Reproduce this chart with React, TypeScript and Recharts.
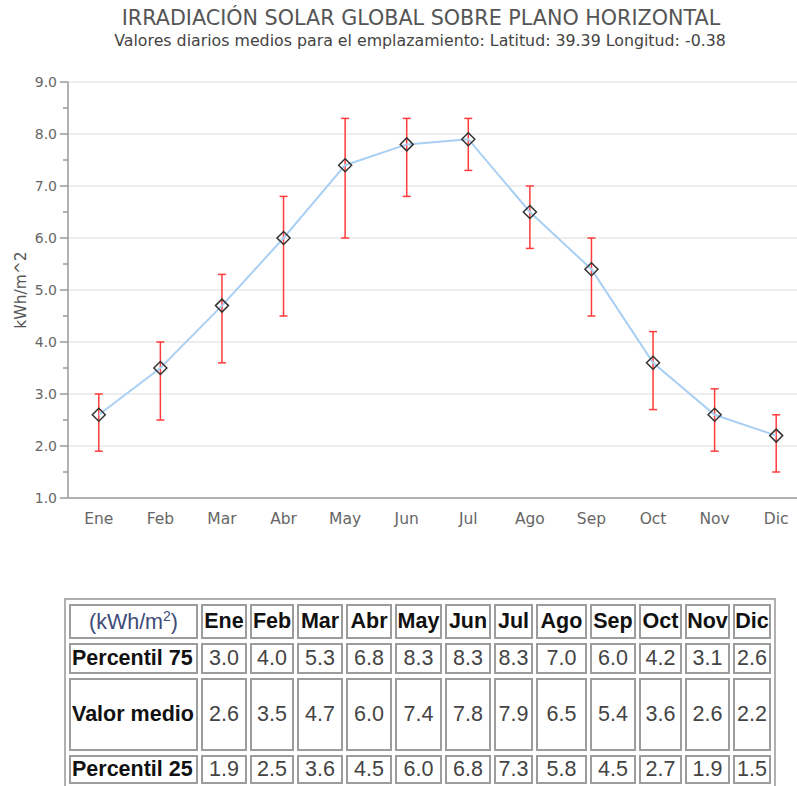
import React from 'react';
import { LineChart, Line, XAxis, YAxis, ErrorBar, ReferenceLine } from 'recharts';

const months = ['Ene', 'Feb', 'Mar', 'Abr', 'May', 'Jun', 'Jul', 'Ago', 'Sep', 'Oct', 'Nov', 'Dic'];
const valorMedio = [2.6, 3.5, 4.7, 6.0, 7.4, 7.8, 7.9, 6.5, 5.4, 3.6, 2.6, 2.2];
const percentil75 = [3.0, 4.0, 5.3, 6.8, 8.3, 8.3, 8.3, 7.0, 6.0, 4.2, 3.1, 2.6];
const percentil25 = [1.9, 2.5, 3.6, 4.5, 6.0, 6.8, 7.3, 5.8, 4.5, 2.7, 1.9, 1.5];
const yAllTicks = [1, 1.5, 2, 2.5, 3, 3.5, 4, 4.5, 5, 5.5, 6, 6.5, 7, 7.5, 8, 8.5, 9];
const gridValues = [2, 3, 4, 5, 6, 7, 8, 9];

const title = 'IRRADIACIÓN SOLAR GLOBAL SOBRE PLANO HORIZONTAL';
const subtitle = 'Valores diarios medios para el emplazamiento: Latitud: 39.39 Longitud: -0.38';

const data = months.map((m, i) => ({
  month: m,
  mean: valorMedio[i],
  err: [+(valorMedio[i] - percentil25[i]).toFixed(2), +(percentil75[i] - valorMedio[i]).toFixed(2)],
}));

const FONT = '"DejaVu Sans", sans-serif';
const TICK_SIZE = 8;
const TICK_MARGIN = 3;

const YTick = (props: any) => {
  const { x, y, payload } = props;
  const v = payload.value as number;
  const major = Number.isInteger(v);
  const axisX = x + TICK_SIZE + TICK_MARGIN;
  const len = major ? TICK_SIZE : 5;
  return (
    <g>
      <line x1={axisX - len} x2={axisX} y1={y} y2={y} stroke="#999" strokeWidth={1.5} />
      {major && (
        <text x={x} y={y} textAnchor="end" dominantBaseline="central" fontSize={14} fill="#666" fontFamily={FONT}>
          {v.toFixed(1)}
        </text>
      )}
    </g>
  );
};

const Diamond = (props: any) => {
  const { cx, cy } = props;
  if (cx == null || cy == null) return null;
  const r = 6.5;
  return (
    <polygon
      points={`${cx},${cy - r} ${cx + r},${cy} ${cx},${cy + r} ${cx - r},${cy}`}
      fill="none"
      stroke="#333"
      strokeWidth={1.5}
    />
  );
};

const YLabel = (props: any) => {
  const vb = props.viewBox || {};
  const cx = (vb.x || 0) + 21;
  const cy = (vb.y || 0) + (vb.height || 0) / 2;
  return (
    <text
      x={cx}
      y={cy}
      transform={`rotate(-90 ${cx} ${cy})`}
      textAnchor="middle"
      dominantBaseline="central"
      fontSize={15.5}
      fill="#555"
      fontFamily={FONT}
    >
      kWh/m^2
    </text>
  );
};

const tableRows = [
  { label: 'Percentil 75', values: percentil75, height: 31 },
  { label: 'Valor medio', values: valorMedio, height: 73 },
  { label: 'Percentil 25', values: percentil25, height: 29 },
];
const colWidths = [129, 46, 44, 46, 46, 47, 46, 39, 51, 46, 43, 45, 38];

const cellBase: React.CSSProperties = {
  border: '2px solid #9c9c9c',
  boxSizing: 'border-box',
  padding: 0,
  textAlign: 'center',
  verticalAlign: 'middle',
};

export default function App() {
  return (
    <div style={{ position: 'absolute', left: 0, top: 0, width: 797, height: 786, overflow: 'hidden', background: '#fff' }}>
      <div
        style={{
          position: 'absolute',
          left: 0,
          top: 7.5,
          width: 842,
          textAlign: 'center',
          fontFamily: FONT,
          fontSize: 20.7,
          lineHeight: '20.7px',
          color: '#555',
          whiteSpace: 'nowrap',
        }}
      >
        {title}
      </div>
      <div
        style={{
          position: 'absolute',
          left: 0,
          top: 32.6,
          width: 840,
          textAlign: 'center',
          fontFamily: FONT,
          fontSize: 15.8,
          lineHeight: '15.8px',
          color: '#444',
          whiteSpace: 'nowrap',
        }}
      >
        {subtitle}
      </div>
      <div style={{ position: 'absolute', left: 0, top: 0 }}>
        <LineChart width={807} height={560} data={data} margin={{ top: 82, right: 0, bottom: 32, left: 0 }}>
          {gridValues.map((v) => (
            <ReferenceLine key={v} y={v} stroke="#e8e8e8" strokeWidth={1.5} ifOverflow="visible" />
          ))}
          <XAxis
            dataKey="month"
            scale="band"
            tickLine={false}
            axisLine={{ stroke: '#999', strokeWidth: 1.5 }}
            tickSize={6}
            tickMargin={9}
            tick={{ fontSize: 15.5, fill: '#666', fontFamily: FONT }}
            interval={0}
            height={30}
          />
          <YAxis
            type="number"
            domain={[1, 9]}
            ticks={yAllTicks}
            interval={0}
            width={68}
            tickSize={TICK_SIZE}
            tickMargin={TICK_MARGIN}
            tickLine={false}
            axisLine={{ stroke: '#999', strokeWidth: 1.5 }}
            tick={<YTick />}
            label={{ content: <YLabel /> }}
          />
          <Line
            type="linear"
            dataKey="mean"
            stroke="#a9cff3"
            strokeWidth={2}
            dot={<Diamond />}
            activeDot={false}
            isAnimationActive={false}
          >
            <ErrorBar dataKey="err" width={4} stroke="#ff3b3b" strokeWidth={1.5} direction="y" isAnimationActive={false} />
          </Line>
        </LineChart>
      </div>
      <table
        style={{
          position: 'absolute',
          left: 64,
          top: 598,
          width: 712,
          tableLayout: 'fixed',
          borderCollapse: 'separate',
          borderSpacing: '3px 4px',
          border: '2px solid #b0b0b0',
          fontFamily: '"Liberation Sans", Arial, sans-serif',
          fontSize: 21.5,
          background: '#fff',
        }}
      >
        <colgroup>
          {colWidths.map((w, i) => (
            <col key={i} style={{ width: w }} />
          ))}
        </colgroup>
        <tbody>
          <tr>
            <td style={{ ...cellBase, height: 35, color: '#3d4a78' }}>
              (kWh/m<sup style={{ fontSize: 14 }}>2</sup>)
            </td>
            {months.map((m) => (
              <td key={m} style={{ ...cellBase, height: 35, fontWeight: 'bold', color: '#111' }}>
                {m}
              </td>
            ))}
          </tr>
          {tableRows.map((r) => (
            <tr key={r.label}>
              <td style={{ ...cellBase, height: r.height, fontWeight: 'bold', color: '#111', textAlign: 'left', paddingLeft: 1, whiteSpace: 'nowrap', overflow: 'hidden' }}>
                {r.label}
              </td>
              {r.values.map((v, i) => (
                <td key={i} style={{ ...cellBase, height: r.height, color: '#444' }}>
                  {v.toFixed(1)}
                </td>
              ))}
            </tr>
          ))}
        </tbody>
      </table>
    </div>
  );
}
